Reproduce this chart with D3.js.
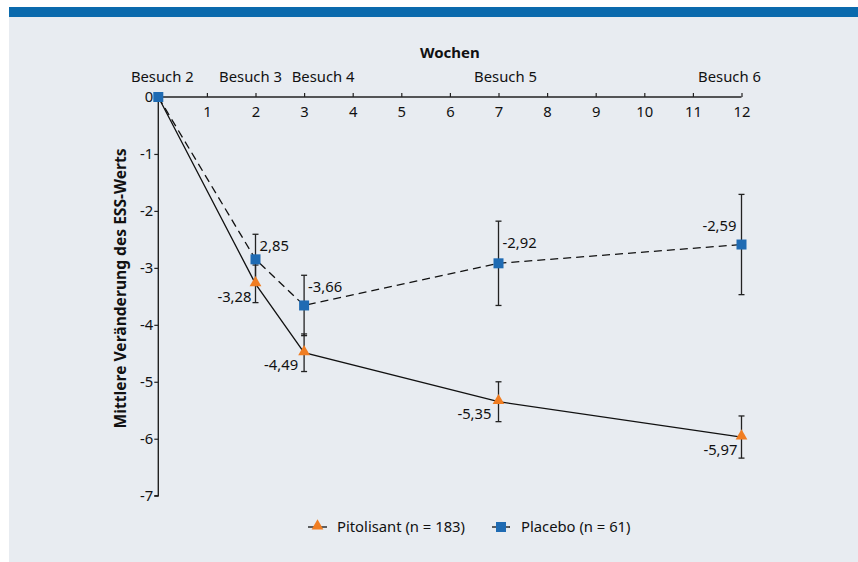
<!DOCTYPE html>
<html><head><meta charset="utf-8">
<script src="https://cdn.jsdelivr.net/npm/d3@7/dist/d3.min.js"></script>
<style>body{margin:0;background:#fff}svg{display:block}text{font-family:"Noto Sans",sans-serif;fill:#111}</style>
</head><body>
<svg id="c" width="858" height="562"></svg>
<script>
const weeks = [0, 2, 3, 7, 12];
const visitLabels = ["Besuch 2", "Besuch 3", "Besuch 4", "Besuch 5", "Besuch 6"];
const pitolisant = [0, -3.28, -4.49, -5.35, -5.97];
const pitolisantErr = [0, 0.33, 0.33, 0.35, 0.37];
const placebo = [0, -2.85, -3.66, -2.92, -2.59];
const placeboErr = [0, 0.44, 0.53, 0.74, 0.88];
const pitolisantLabels = ["", "-3,28", "-4,49", "-5,35", "-5,97"];
const placeboLabels = ["", "2,85", "-3,66", "-2,92", "-2,59"];
const xTicks = [0,1,2,3,4,5,6,7,8,9,10,11,12];
const yTicks = [0,-1,-2,-3,-4,-5,-6,-7];

const FS = "14.8px";
const svg = d3.select("#c");
svg.append("rect").attr("x",9).attr("y",17).attr("width",849).attr("height",545).attr("fill","#e8ecf1");
svg.append("rect").attr("x",9).attr("y",7).attr("width",849).attr("height",10).attr("fill","#0a6aad");

const x = d3.scaleLinear().domain([0,12]).range([158.3,741.5]);
const y = d3.scaleLinear().domain([0,-7]).range([97,495.7]);

// x axis (ticks up)
const xa = svg.append("g").attr("transform","translate(0,97)")
  .call(d3.axisTop(x).tickValues(xTicks.slice(1)).tickSize(4).tickSizeOuter(0).tickFormat(d=>d));
xa.select(".domain").attr("stroke","#222").attr("stroke-width",1.4).attr("d",`M${x(0)},0H${x(12)}`);
xa.selectAll(".tick line").attr("stroke","#222").attr("stroke-width",1.2);
xa.selectAll(".tick text").attr("y",9).attr("dy","0.71em").style("font-size",FS).attr("fill","#111");
xa.attr("font-family",null).attr("font-size",null);

// y axis
const ya = svg.append("g").attr("transform",`translate(${x(0)},0)`)
  .call(d3.axisLeft(y).tickValues(yTicks).tickSize(4).tickSizeOuter(0).tickFormat(d=>d));
ya.select(".domain").attr("stroke","#222").attr("stroke-width",1.4).attr("d",`M0,${y(0)}V${y(-7)}h-4`);
ya.selectAll(".tick line").attr("stroke","#222").attr("stroke-width",1.2);
ya.selectAll(".tick text").attr("x",-5).style("font-size",FS).attr("fill","#111");
ya.attr("font-family",null).attr("font-size",null);

// visit labels (horizontal nudges to avoid overlap, as in the original)
const visitDx = [4, -5, 19, 7, -12];
svg.selectAll(".visit").data(weeks).enter().append("text")
  .attr("x",(d,i)=>x(d)+visitDx[i]).attr("y",82).attr("text-anchor","middle").style("font-size",FS)
  .text((d,i)=>visitLabels[i]);
svg.append("text").attr("x",(x(0)+x(12))/2).attr("y",58).attr("text-anchor","middle")
  .style("font-size","15px").style("font-weight","bold").text("Wochen");
svg.append("text").attr("transform",`translate(126,${(y(0)+y(-7))/2-8}) rotate(-90)`)
  .attr("text-anchor","middle").style("font-size","15.6px").style("font-weight","bold")
  .text("Mittlere Veränderung des ESS-Werts");

const line = d3.line().x(d=>x(d[0])).y(d=>y(d[1]));
const pitData = weeks.map((w,i)=>[w,pitolisant[i],pitolisantErr[i]]);
const plaData = weeks.map((w,i)=>[w,placebo[i],placeboErr[i]]);

function errBars(data){
  const g = svg.append("g").attr("stroke","#222").attr("stroke-width",1.3);
  data.filter(d=>d[2]>0).forEach(d=>{
    const cx=x(d[0]), t=y(d[1]+d[2]), b=y(d[1]-d[2]);
    g.append("line").attr("x1",cx).attr("x2",cx).attr("y1",t).attr("y2",b);
    g.append("line").attr("x1",cx-3).attr("x2",cx+3).attr("y1",t).attr("y2",t);
    g.append("line").attr("x1",cx-3).attr("x2",cx+3).attr("y1",b).attr("y2",b);
  });
}
errBars(plaData);
errBars(pitData);

svg.append("path").datum(plaData).attr("d",line).attr("fill","none").attr("stroke","#111")
  .attr("stroke-width",1.3).attr("stroke-dasharray","8,5");
svg.append("path").datum(pitData).attr("d",line).attr("fill","none").attr("stroke","#111")
  .attr("stroke-width",1.3);

const tri = d3.symbol().type(d3.symbolTriangle).size(60);
svg.selectAll(".pt").data(pitData.slice(1)).enter().append("path")
  .attr("d",tri).attr("transform",d=>`translate(${x(d[0])},${y(d[1])-1})`).attr("fill","#f07d22");
svg.selectAll(".pq").data(plaData).enter().append("rect")
  .attr("x",d=>x(d[0])-5).attr("y",d=>y(d[1])-5).attr("width",10).attr("height",10).attr("fill","#1f6bb3");

// value labels
const plaOff = [null,[4,-8,"start"],[4,-13,"start"],[4,-15,"start"],[-5,-14,"end"]];
const pitOff = [null,[-4,18,"end"],[-6,17,"end"],[-7,17,"end"],[-4,18,"end"]];
plaData.forEach((d,i)=>{ if(!plaOff[i]) return;
  svg.append("text").attr("x",x(d[0])+plaOff[i][0]).attr("y",y(d[1])+plaOff[i][1])
   .attr("text-anchor",plaOff[i][2]).style("font-size",FS).text(placeboLabels[i]); });
pitData.forEach((d,i)=>{ if(!pitOff[i]) return;
  svg.append("text").attr("x",x(d[0])+pitOff[i][0]).attr("y",y(d[1])+pitOff[i][1])
   .attr("text-anchor",pitOff[i][2]).style("font-size",FS).text(pitolisantLabels[i]); });

// legend
const lg = svg.append("g");
lg.append("line").attr("x1",308).attr("x2",327).attr("y1",527).attr("y2",527).attr("stroke","#111").attr("stroke-width",1.3);
lg.append("path").attr("d",tri).attr("transform","translate(317.5,526)").attr("fill","#f07d22");
lg.append("text").attr("x",337).attr("y",532).style("font-size",FS).text("Pitolisant (n = 183)");
lg.append("line").attr("x1",492).attr("x2",510).attr("y1",527).attr("y2",527).attr("stroke","#111").attr("stroke-width",1.3);
lg.append("rect").attr("x",496).attr("y",522).attr("width",10).attr("height",10).attr("fill","#1f6bb3");
lg.append("text").attr("x",521).attr("y",532).style("font-size",FS).text("Placebo (n = 61)");
</script>
</body></html>
